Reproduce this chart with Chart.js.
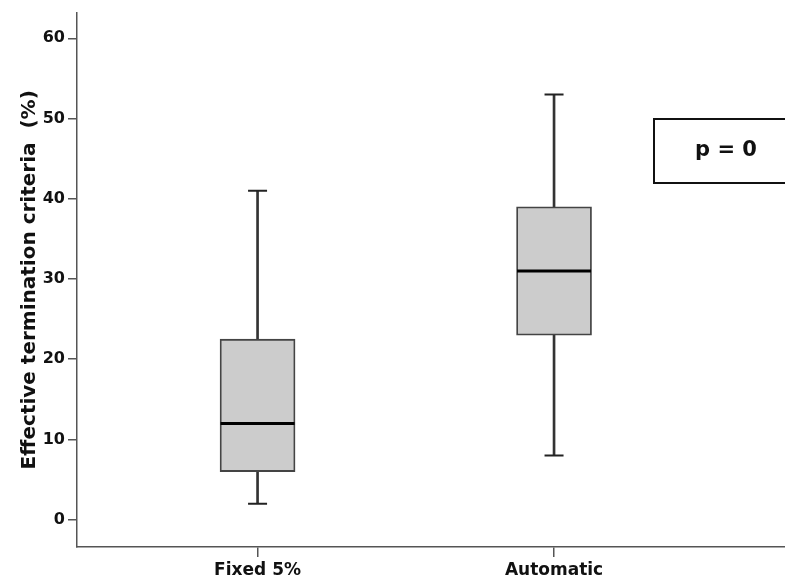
<!DOCTYPE html>
<html>
<head>
<meta charset="utf-8">
<script src="https://cdn.jsdelivr.net/npm/chart.js@4/dist/chart.umd.min.js"></script>
<style>
  html, body { margin: 0; padding: 0; background: #ffffff; }
  #wrap { width: 785px; height: 581px; position: relative; }
</style>
</head>
<body>
<div id="wrap"><canvas id="c"></canvas></div>
<script>
// ---- data ----
const categories   = ['Fixed 5%', 'Automatic'];
const whiskerLow   = [2, 8];
const quartile1    = [6, 23];
const medians      = [12, 31];
const quartile3    = [22.5, 39];
const whiskerHigh  = [41, 53];
const yTickValues  = [0, 10, 20, 30, 40, 50, 60];
const yAxisTitle   = 'Effective termination criteria  (%)';
const pValueText   = 'p = 0';

const positions = categories.map((_, i) => i + 1);

const whiskerData = positions.map((x, i) => ({ x, y: [whiskerLow[i], whiskerHigh[i]] }));
const boxData     = positions.map((x, i) => ({ x, y: [quartile1[i], quartile3[i]] }));
const capData     = positions.flatMap((x, i) => [{ x, y: whiskerLow[i] }, { x, y: whiskerHigh[i] }]);
const medianData  = positions.map((x, i) => ({ x, y: medians[i] }));

const pBoxPlugin = {
  id: 'pBox',
  afterDraw(chart) {
    const ctx = chart.ctx;
    ctx.save();
    const left = 654, top = 119, right = chart.width + 2, bottom = 183;
    ctx.lineWidth = 2;
    ctx.strokeStyle = '#111';
    ctx.strokeRect(left, top, right - left, bottom - top);
    ctx.fillStyle = '#111';
    ctx.font = 'bold 21px "DejaVu Sans"';
    ctx.textAlign = 'center';
    ctx.textBaseline = 'middle';
    ctx.fillText(pValueText, 726, 151);
    ctx.restore();
  }
};

const fontTick = { family: 'DejaVu Sans', size: 16, weight: 'bold' };

new Chart(document.getElementById('c'), {
  type: 'bar',
  data: {
    datasets: [
      {
        label: 'whisker',
        data: whiskerData,
        backgroundColor: '#333333',
        borderWidth: 0,
        barThickness: 2,
        grouped: false,
        order: 4
      },
      {
        label: 'box',
        data: boxData,
        backgroundColor: '#cccccc',
        borderColor: '#444444',
        borderWidth: 1.8,
        borderSkipped: false,
        barThickness: 75,
        grouped: false,
        order: 3
      },
      {
        type: 'line',
        label: 'caps',
        data: capData,
        showLine: false,
        pointStyle: 'line',
        pointRadius: 9.5,
        pointBorderWidth: 2,
        pointBorderColor: '#222222',
        borderColor: '#222222',
        order: 2
      },
      {
        type: 'line',
        label: 'median',
        data: medianData,
        showLine: false,
        pointStyle: 'line',
        pointRadius: 37,
        pointBorderWidth: 3,
        pointBorderColor: '#000000',
        borderColor: '#000000',
        order: 1
      }
    ]
  },
  options: {
    responsive: true,
    maintainAspectRatio: false,
    animation: false,
    events: [],
    layout: { autoPadding: false, padding: { top: 12, right: 0, left: 0, bottom: 0 } },
    plugins: {
      legend: { display: false },
      tooltip: { enabled: false }
    },
    scales: {
      x: {
        type: 'linear',
        offset: false,
        min: 0.391,
        max: 2.779,
        afterBuildTicks(scale) { scale.ticks = positions.map(v => ({ value: v })); },
        afterFit(scale) { scale.height = 34; },
        ticks: {
          callback: (v) => categories[v - 1] || '',
          color: '#111',
          font: { family: 'DejaVu Sans', size: 17, weight: 'bold' },
          padding: 3,
          maxRotation: 0,
          autoSkip: false
        },
        grid: { offset: false, drawOnChartArea: false, drawTicks: true, tickLength: 10, color: '#555', lineWidth: 1.5 },
        border: { display: true, color: '#555', width: 1.5 }
      },
      y: {
        type: 'linear',
        min: -3.4,
        max: 63.2,
        afterBuildTicks(scale) { scale.ticks = yTickValues.map(v => ({ value: v })); },
        afterFit(scale) { scale.width = 77; },
        ticks: {
          color: '#111',
          font: fontTick,
          padding: 3
        },
        grid: { drawOnChartArea: false, drawTicks: true, tickLength: 9, color: '#555', lineWidth: 1.5 },
        border: { display: true, color: '#555', width: 1.5 },
        title: {
          display: true,
          text: yAxisTitle,
          color: '#111',
          font: { family: 'DejaVu Sans', size: 20, weight: 'bold' },
          padding: { top: 18, bottom: 0 }
        }
      }
    }
  },
  plugins: [pBoxPlugin]
});
</script>
</body>
</html>
